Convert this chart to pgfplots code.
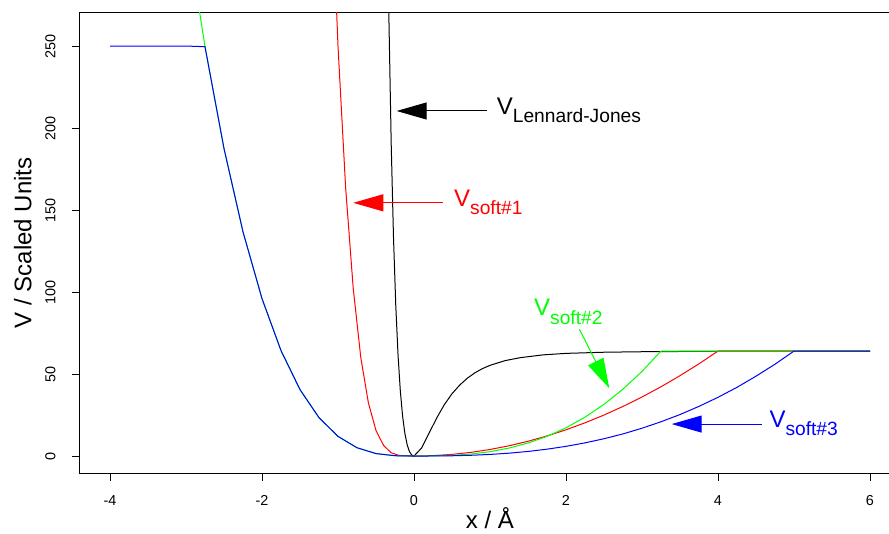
\documentclass[border=0pt]{standalone}
\usepackage{fontspec}
\setmainfont{Liberation Sans}
\usepackage{pgfplots}
\pgfplotsset{compat=1.18}
\usetikzlibrary{arrows.meta}
\newcommand\Vlab[1]{{\fontsize{24}{24}\selectfont V}\raisebox{-8.4pt}{\fontsize{19.2}{19.2}\selectfont #1}}
\begin{document}
\begin{tikzpicture}
\useasboundingbox (0,0) rectangle (889pt,534pt);
\begin{axis}[
  at={(79.6pt,60.9pt)}, anchor=south west,
  scale only axis, width=820.8pt, height=460.5pt,
  xmin=-4.4, xmax=6.4, ymin=-10.4, ymax=270.4,
  axis line style={line width=0.9pt},
  tick align=outside, major tick length=8pt,
  tick style={line width=0.9pt, black},
  tick pos=left,
  xtick={-4,-2,0,2,4,6}, ytick={0,50,100,150,200,250},
  /pgf/number format/assume math mode=true,
  ticklabel style={font=\fontsize{14.4}{14.4}\selectfont, inner sep=0pt},
  xticklabel style={anchor=base},
  xticklabel shift=24pt,
  yticklabel style={rotate=90, anchor=south},
  yticklabel shift=16pt,
  xlabel={x / Å}, ylabel={V / Scaled Units},
  label style={font=\fontsize{24}{24}\selectfont, inner sep=0pt},
  xlabel style={at={(axis description cs:0.5,-0.121)}, anchor=base},
  ylabel style={at={(axis description cs:-0.0693,0.5)}, anchor=center},
]
% Lennard-Jones
\addplot[black, line width=1pt] coordinates {
(-0.36,369) (-0.35,331.8) (-0.33,266.6) (-0.30,190.5) (-0.27,133.6) (-0.24,92.0)
(-0.21,61.6) (-0.18,39.7) (-0.15,24.3) (-0.12,13.8) (-0.09,6.9) (-0.06,2.7)
(-0.03,0.6) (0,0) (0.1,4.9) (0.2,14.1) (0.3,23.3) (0.4,31.4) (0.5,38.0)
(0.6,43.2) (0.7,47.4) (0.8,50.7) (0.9,53.3) (1.0,55.3) (1.2,58.2) (1.4,60.0)
(1.7,61.7) (2.0,62.6) (2.5,63.3) (3.0,63.6) (4.0,63.9) (5.0,63.95) (6.0,64.0)
};
% soft #1
\addplot[red, line width=1pt] coordinates {
(-1.1,366) (-1.0,250) (-0.9,164) (-0.8,102.4) (-0.7,60.0) (-0.6,32.4) (-0.5,15.6)
(-0.4,6.4) (-0.3,2.0) (-0.2,0.4) (-0.1,0.03) (0,0)
(0.25,0.25) (0.5,1) (0.75,2.25) (1,4) (1.25,6.25) (1.5,9) (1.75,12.25) (2,16)
(2.25,20.25) (2.5,25) (2.75,30.25) (3,36) (3.25,42.25) (3.5,49) (3.75,56.25)
(4,64) (6,64)
};
% soft #2
\addplot[green, line width=1pt] coordinates {
(-3.0,324) (-2.75,249.6) (-2.5,187.5) (-2.25,136.7) (-2.0,96) (-1.75,64.3)
(-1.5,40.5) (-1.25,23.4) (-1.0,12) (-0.75,5.06) (-0.5,1.5) (-0.25,0.19) (0,0)
(0.25,0.06) (0.5,0.41) (0.75,1.22) (1.0,2.66) (1.25,4.85) (1.5,7.94) (1.75,12.0)
(2.0,17.2) (2.25,23.7) (2.5,31.5) (2.75,40.8) (3.0,51.6) (3.25,64) (6,64)
};
% soft #3
\addplot[blue, line width=1pt] coordinates {
(-4,250) (-3.5,250) (-3,250) (-2.75,249.6) (-2.5,187.5) (-2.25,136.7) (-2.0,96)
(-1.75,64.3) (-1.5,40.5) (-1.25,23.4) (-1.0,12) (-0.75,5.06) (-0.5,1.5)
(-0.25,0.19) (0,0)
(0.25,0.03) (0.5,0.16) (0.75,0.46) (1.0,0.98) (1.25,1.74) (1.5,2.80) (1.75,4.18)
(2.0,5.91) (2.25,8.03) (2.5,10.55) (2.75,13.5) (3.0,16.96) (3.25,20.9) (3.5,25.3)
(3.75,30.3) (4.0,35.8) (4.25,41.9) (4.5,48.7) (4.75,56.0) (5.0,64) (6,64)
};
% annotations
\draw[black, line width=1pt, -{Triangle[length=30pt,width=17pt]}] (axis cs:0.957,210.4) -- (axis cs:-0.228,210.4);
\node[black, anchor=base west, inner sep=0pt] at (axis cs:1.088,208.4) {\Vlab{Lennard-Jones}};
\draw[red, line width=1pt, -{Triangle[length=30pt,width=17pt]}] (axis cs:0.378,154.4) -- (axis cs:-0.799,154.4);
\node[red, anchor=base west, inner sep=0pt] at (axis cs:0.526,152.4) {\Vlab{soft\#1}};
\draw[green, line width=1pt, -{Triangle[length=30pt,width=17pt]}] (axis cs:2.175,77.4) -- (axis cs:2.570,41.3);
\node[green, anchor=base west, inner sep=0pt] at (axis cs:1.579,85.4) {\Vlab{soft\#2}};
\draw[blue, line width=1pt, -{Triangle[length=30pt,width=17pt]}] (axis cs:4.575,19.5) -- (axis cs:3.391,19.5);
\node[blue, anchor=base west, inner sep=0pt] at (axis cs:4.675,17.4) {\Vlab{soft\#3}};
\end{axis}
\end{tikzpicture}
\end{document}
